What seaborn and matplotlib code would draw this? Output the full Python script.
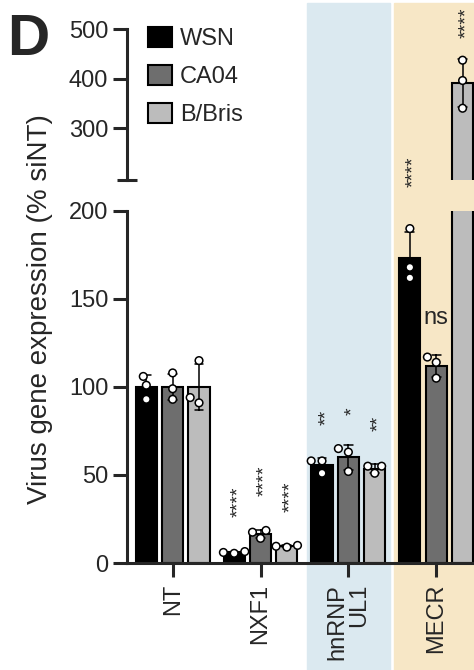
import numpy as np
import pandas as pd
import seaborn as sns
import matplotlib.pyplot as plt
from matplotlib.patches import Rectangle, Patch
from matplotlib.transforms import blended_transform_factory

groups = ['NT', 'NXF1', 'hnRNP\nUL1', 'MECR']
viruses = ['WSN', 'CA04', 'B/Bris']
colors = ['black', '#6e6e6e', '#bcbcbc']

# three replicates per bar (% siNT)
wsn = [[106, 101, 93], [6.5, 6.0, 5.5], [58, 58, 51], [190, 168, 162]]
ca04 = [[108, 99, 93], [17.5, 18.5, 14], [65, 63, 52], [114, 117, 105]]
bbris = [[115, 94, 91], [10, 9.5, 9], [55, 51, 55], [437, 396, 340]]

# significance labels and the height they sit at
stars = [['', '****', '**', '****'],
         ['', '****', '*', 'ns'],
         ['', '****', '**', '****']]
star_y = [[0, 35, 83, 211],
          [0, 46.5, 86, 139],
          [0, 37.5, 79.5, 512]]

rows = []
for v, reps in zip(viruses, [wsn, ca04, bbris]):
    for g, vals in zip(groups, reps):
        for val in vals:
            rows.append((g, v, val))
df = pd.DataFrame(rows, columns=['gene', 'virus', 'value'])

sns.set_style('ticks')
plt.rcParams['font.family'] = ['Liberation Sans', 'DejaVu Sans']

fig = plt.figure(figsize=(4.74, 6.70), dpi=100)
ax_top = fig.add_axes([0.2679, 0.7313, 0.7321, 0.2254])
ax_low = fig.add_axes([0.2679, 0.1597, 0.7321, 0.5254])
ax_top.set_ylim(195, 500)
ax_low.set_ylim(0, 200)

for ax in (ax_top, ax_low):
    ax.set_facecolor('none')
    lo = ax.get_ylim()[0]
    sns.barplot(data=df, x='gene', y='value', hue='virus', order=groups, hue_order=viruses,
                palette=colors, saturation=1, errorbar='sd', capsize=0.3, width=0.9, gap=0.2,
                edgecolor='black', linewidth=1.5, err_kws={'color': 'black', 'linewidth': 1.1},
                legend=False, ax=ax)
    sns.swarmplot(data=df[df.value > lo], x='gene', y='value', hue='virus', order=groups,
                  hue_order=viruses, palette=['white'] * 3, dodge=True, size=5.5,
                  edgecolor='black', linewidth=1.1, legend=False, zorder=3, ax=ax)
    ax.set_xlim(-0.52, 3.43)
    ax.set_xlabel('')
    ax.set_ylabel('')
    for s in ax.spines.values():
        s.set_linewidth(2.2)
    ax.tick_params(labelsize=17, width=2.2, length=10, pad=3.5)

ax_top.set_ylim(195, 500)
ax_low.set_ylim(0, 200)

# swarmplot dodges with a fixed width of .8; stretch the points to the .9 used by the bars
fig.canvas.draw()
for ax in (ax_top, ax_low):
    for pts in ax.collections:
        if 'draw' in vars(pts):
            del pts.draw
        xy = np.asarray(pts.get_offsets()).copy()
        if len(xy):
            g = np.round(xy[:, 0])
            xy[:, 0] = g + (xy[:, 0] - g) * 0.9 / 0.8
            pts.set_offsets(xy)

# upper part of the broken axis
ax_top.spines[['top', 'right', 'bottom']].set_visible(False)
ax_top.tick_params(axis='x', bottom=False, labelbottom=False)
ax_top.set_yticks([300, 400, 500])
ax_top.set_yticks([195], minor=True)
ax_top.tick_params(axis='y', which='minor', direction='inout', length=14, width=2.2)

# lower part
ax_low.spines[['top', 'right']].set_visible(False)
ax_low.set_yticks([0, 50, 100, 150, 200])
ax_low.set_yticks([200], minor=True)
ax_low.tick_params(axis='y', which='minor', direction='in', length=7, width=2.2)
ax_low.set_xticks(range(len(groups)))
ax_low.set_xticklabels(groups, rotation=90, linespacing=0.95, multialignment='right')
ax_low.tick_params(axis='x', pad=5)

# shaded gene groups behind the bars
trans = blended_transform_factory(ax_low.transData, fig.transFigure)
fig.add_artist(Rectangle((1.53, 0), 0.94, 0.995, transform=trans, color='#dbe9f0', zorder=-1))
fig.add_artist(Rectangle((2.52, 0), 1.2, 0.995, transform=trans, color='#f7e7c6', zorder=-1))

for i in range(len(viruses)):
    for j in range(len(groups)):
        s = stars[i][j]
        if not s:
            continue
        y = star_y[i][j]
        ax = ax_top if y > 200 else ax_low
        if s == 'ns':
            ax.text(j + (i - 1) * 0.3, y, s, ha='center', va='center', fontsize=17)
        else:
            # rotated asterisks sit high in their line box, nudge them back onto the bar
            ax.annotate(s, (j + (i - 1) * 0.3, y), xytext=(3, 0), textcoords='offset points',
                        ha='center', va='center', fontsize=14, rotation=90, annotation_clip=False)

handles = [Patch(facecolor=c, edgecolor='black', linewidth=1.5, label=v) for v, c in zip(viruses, colors)]
fig.legend(handles=handles, loc='upper left', bbox_to_anchor=(148 / 474, 1 - 27 / 670), frameon=False,
           fontsize=17, handlelength=1.0, handleheight=0.95, handletextpad=0.35, labelspacing=0.62,
           borderpad=0, borderaxespad=0)

fig.text(0.015, 1 - 55 / 670, 'D', fontsize=42, fontweight='bold', va='baseline')
fig.text(40 / 474, 1 - 309 / 670, 'Virus gene expression (% siNT)', rotation=90,
         ha='center', va='center', fontsize=20)

fig.savefig('out.png', dpi=100)
